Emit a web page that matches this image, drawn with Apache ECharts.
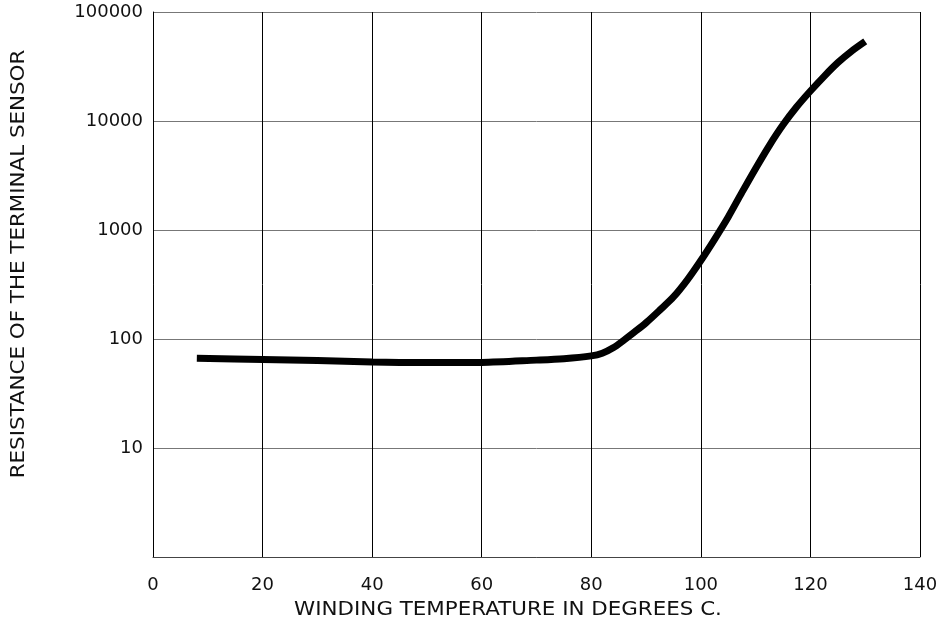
<!DOCTYPE html>
<html lang="en">
<head>
    <meta charset="UTF-8">
    <title>Resistance vs Winding Temperature</title>
    <style>
        html, body { margin: 0; padding: 0; background: #fff; }
        #main { width: 952px; height: 622px; }
    </style>
</head>
<body>
    <div id="main"></div>
    <script src="https://cdn.jsdelivr.net/npm/echarts@6/dist/echarts.min.js"></script>
    <script>
        // winding temperature (deg C) and sensor resistance
        var temps = [8, 20, 30, 40, 50, 60, 70, 75, 80, 82, 84, 86, 88, 90, 92.5, 95, 97.5, 100, 102.5, 105, 107.5, 110, 112.5, 115, 117.5, 120, 122.5, 125, 127.5, 130];
        var resistance = [66.5, 65, 63.5, 61.5, 60.8, 61, 64, 66, 70, 74, 83, 98, 117, 141, 184, 243, 347, 525, 822, 1318, 2213, 3673, 5957, 9226, 13490, 18836, 25704, 34277, 43652, 53703];
        var xTicks = [0, 20, 40, 60, 80, 100, 120, 140];
        var yTicks = [10, 100, 1000, 10000, 100000];
        var xName = 'WINDING TEMPERATURE IN DEGREES C.';
        var yName = 'RESISTANCE OF THE TERMINAL SENSOR';

        var points = temps.map(function (t, i) { return [t, resistance[i]]; });
        var font = '"DejaVu Sans", sans-serif';

        echarts.init(document.getElementById('main')).setOption({
            animation: false,
            backgroundColor: '#fff',
            grid: { left: 153, right: 32, top: 12, bottom: 65 },
            // axis titles drawn as text so they can be widened a little like the original
            graphic: [
                {
                    type: 'text', x: 508, y: 610, scaleX: 1.07,
                    style: { text: xName, fontFamily: font, fontSize: 20, fill: '#111', align: 'center', verticalAlign: 'middle' }
                },
                {
                    type: 'text', x: 19, y: 264, rotation: Math.PI / 2, scaleX: 1.07,
                    style: { text: yName, fontFamily: font, fontSize: 20, fill: '#111', align: 'center', verticalAlign: 'middle' }
                }
            ],
            xAxis: {
                type: 'value',
                min: 0,
                max: 140,
                interval: 20,
                axisLine: { lineStyle: { color: '#444', width: 1 } },
                axisTick: { show: false },
                axisLabel: {
                    fontFamily: font, fontSize: 18, color: '#111', margin: 19,
                    formatter: function (v) { return xTicks.indexOf(v) >= 0 ? String(v) : ''; }
                },
                splitLine: { show: true, lineStyle: { color: '#000', width: 1 } }
            },
            yAxis: {
                type: 'log',
                logBase: 10,
                min: 1,
                max: 100000,
                axisLine: { show: true, lineStyle: { color: '#000', width: 1 } },
                axisTick: { show: false },
                axisLabel: {
                    fontFamily: font, fontSize: 18, color: '#111', margin: 10,
                    formatter: function (v) { return yTicks.indexOf(Math.round(v)) >= 0 ? String(Math.round(v)) : ''; }
                },
                splitLine: { show: true, lineStyle: { color: '#777', width: 1 } }
            },
            series: [{
                type: 'line',
                data: points,
                smooth: 0.3,
                showSymbol: false,
                lineStyle: { color: '#000', width: 7, cap: 'butt' }
            }]
        });
    </script>
</body>
</html>
